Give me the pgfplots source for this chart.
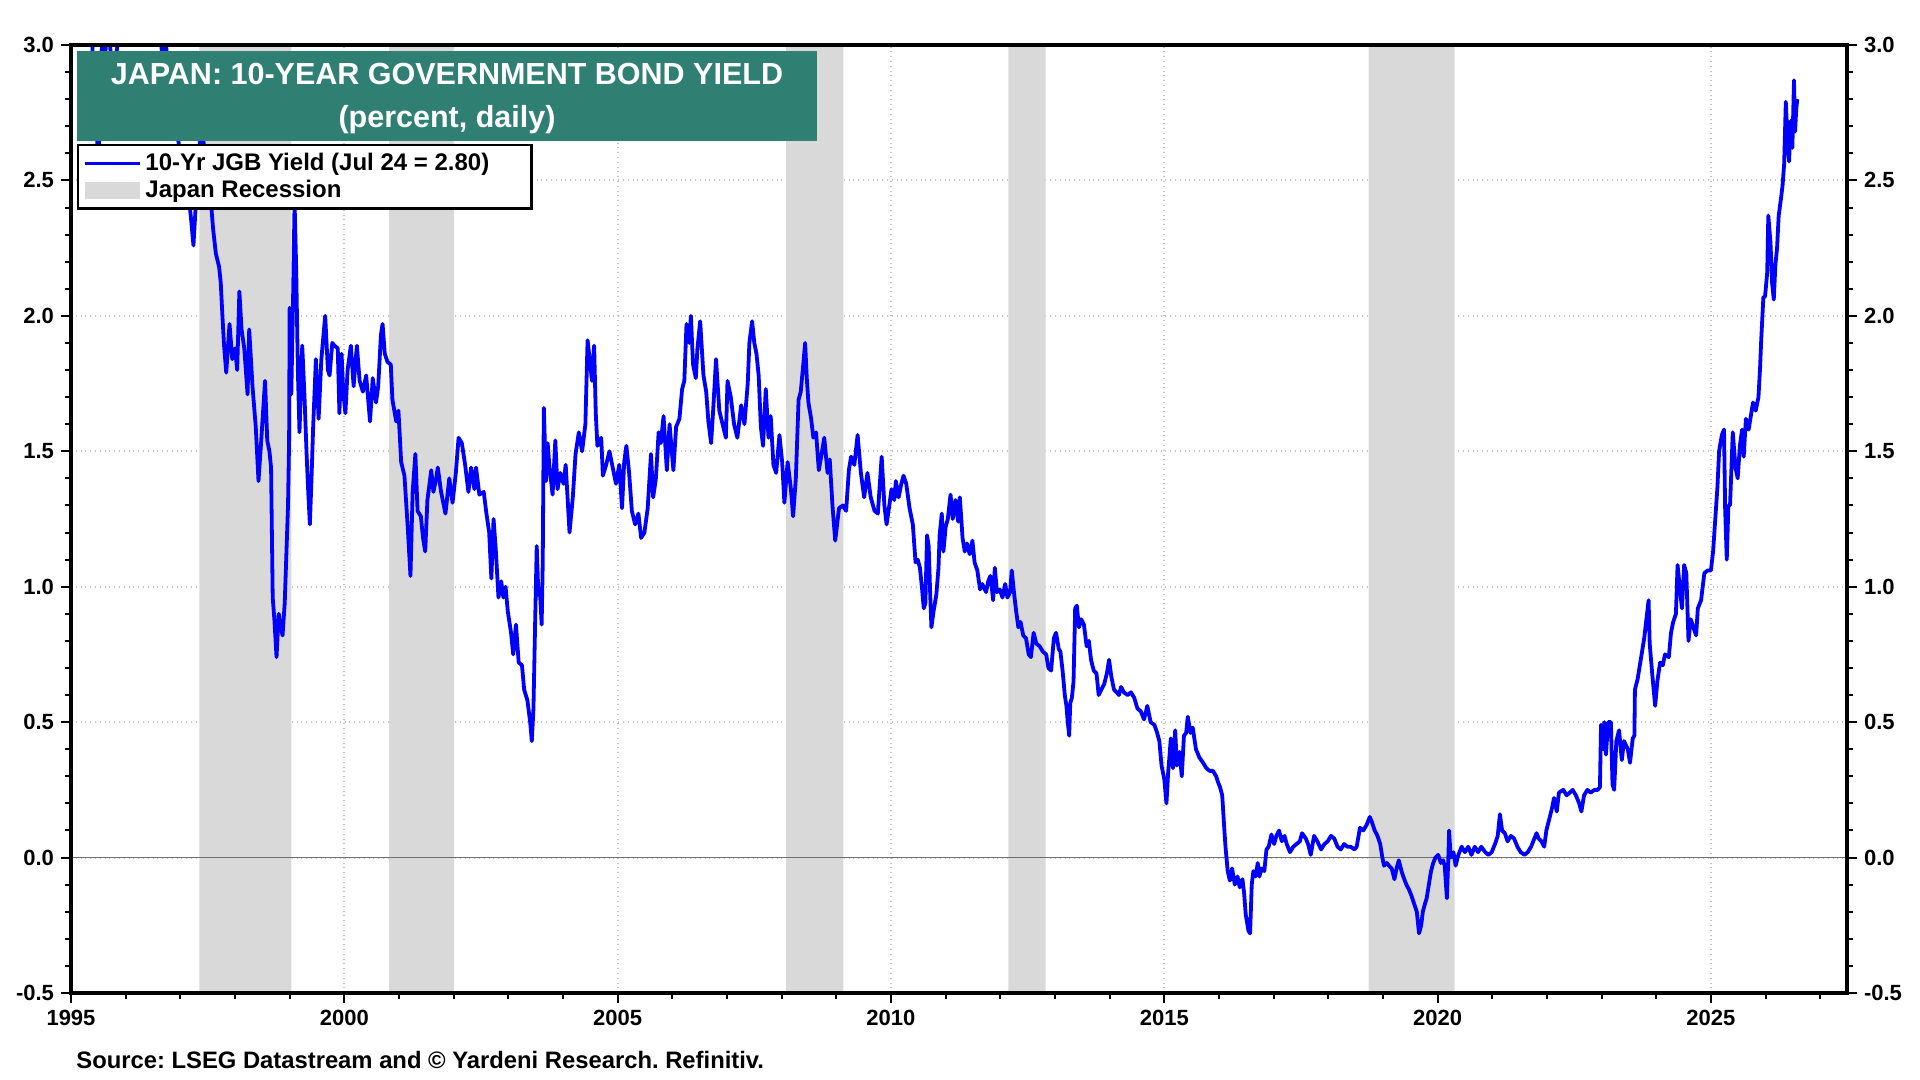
\documentclass[border=0pt]{standalone}
\usepackage{pgfplots}
\usepackage{pgfplotstable}
\pgfplotsset{compat=1.18}
\usepackage{fontspec}
\setmainfont{Liberation Sans}
\frenchspacing
\definecolor{titleteal}{RGB}{47,128,115}
\definecolor{recgray}{RGB}{217,217,217}
\definecolor{gridgray}{RGB}{195,195,195}
\definecolor{zerogray}{RGB}{110,110,110}
\definecolor{lineblue}{RGB}{0,0,255}

\pgfplotstableread{
x y
1995.00 4.55
1995.10 4.30
1995.20 3.90
1995.30 3.40
1995.38 3.05
1995.42 2.85
1995.47 2.70
1995.50 2.55
1995.53 2.75
1995.57 3.05
1995.62 2.95
1995.68 3.10
1995.75 2.90
1995.82 2.95
1995.88 3.05
1995.95 3.10
1996.05 3.25
1996.15 3.20
1996.25 3.35
1996.35 3.40
1996.45 3.30
1996.55 3.25
1996.62 3.05
1996.68 2.95
1996.72 3.05
1996.78 2.90
1996.85 2.75
1996.92 2.70
1997.00 2.60
1997.08 2.50
1997.15 2.45
1997.20 2.35
1997.24 2.26
1997.28 2.40
1997.32 2.55
1997.38 2.70
1997.44 2.62
1997.50 2.55
1997.56 2.42
1997.60 2.32
1997.65 2.23
1997.71 2.18
1997.74 2.12
1997.77 2.00
1997.80 1.89
1997.84 1.79
1997.87 1.88
1997.90 1.97
1997.95 1.84
1998.00 1.88
1998.04 1.80
1998.08 2.09
1998.12 1.95
1998.17 1.88
1998.23 1.71
1998.26 1.95
1998.32 1.74
1998.38 1.59
1998.43 1.39
1998.48 1.54
1998.55 1.76
1998.59 1.54
1998.63 1.50
1998.66 1.44
1998.69 0.96
1998.72 0.88
1998.76 0.74
1998.80 0.90
1998.83 0.86
1998.87 0.82
1998.91 0.94
1998.95 1.18
1998.97 1.30
1998.99 1.54
1999.00 2.03
1999.03 1.71
1999.06 2.03
1999.09 2.42
1999.12 2.17
1999.15 1.80
1999.18 1.57
1999.23 1.89
1999.27 1.71
1999.31 1.49
1999.34 1.35
1999.37 1.23
1999.40 1.40
1999.43 1.59
1999.48 1.84
1999.53 1.62
1999.58 1.84
1999.65 2.00
1999.70 1.80
1999.73 1.78
1999.78 1.90
1999.82 1.89
1999.88 1.88
1999.91 1.64
1999.95 1.86
1999.98 1.72
2000.02 1.64
2000.06 1.80
2000.12 1.89
2000.17 1.74
2000.23 1.89
2000.28 1.76
2000.34 1.72
2000.40 1.78
2000.47 1.61
2000.52 1.77
2000.58 1.68
2000.62 1.74
2000.67 1.93
2000.70 1.97
2000.74 1.86
2000.79 1.83
2000.85 1.82
2000.88 1.69
2000.95 1.61
2000.99 1.65
2001.04 1.46
2001.10 1.41
2001.16 1.22
2001.21 1.04
2001.25 1.35
2001.30 1.49
2001.34 1.28
2001.40 1.26
2001.44 1.18
2001.48 1.13
2001.52 1.32
2001.59 1.43
2001.63 1.35
2001.68 1.40
2001.71 1.44
2001.77 1.35
2001.85 1.27
2001.92 1.40
2001.98 1.31
2002.04 1.42
2002.09 1.55
2002.15 1.53
2002.21 1.45
2002.27 1.35
2002.32 1.44
2002.38 1.36
2002.41 1.44
2002.47 1.34
2002.55 1.35
2002.60 1.27
2002.65 1.20
2002.69 1.03
2002.73 1.25
2002.77 1.14
2002.82 0.96
2002.87 1.02
2002.91 0.96
2002.95 1.00
2002.99 0.91
2003.05 0.83
2003.09 0.75
2003.14 0.86
2003.19 0.72
2003.25 0.71
2003.29 0.62
2003.35 0.58
2003.40 0.50
2003.43 0.43
2003.46 0.55
2003.49 0.86
2003.52 1.15
2003.55 0.97
2003.58 0.98
2003.61 0.86
2003.63 1.09
2003.65 1.66
2003.69 1.39
2003.72 1.53
2003.75 1.45
2003.81 1.34
2003.86 1.54
2003.90 1.36
2003.95 1.42
2004.01 1.38
2004.05 1.45
2004.12 1.20
2004.18 1.33
2004.23 1.49
2004.29 1.57
2004.35 1.50
2004.41 1.60
2004.45 1.91
2004.50 1.82
2004.53 1.76
2004.57 1.89
2004.60 1.64
2004.63 1.52
2004.70 1.55
2004.73 1.41
2004.79 1.45
2004.85 1.50
2004.91 1.44
2004.97 1.38
2005.03 1.45
2005.08 1.29
2005.12 1.46
2005.16 1.52
2005.21 1.42
2005.26 1.28
2005.32 1.23
2005.38 1.27
2005.43 1.18
2005.49 1.20
2005.55 1.29
2005.61 1.49
2005.65 1.33
2005.70 1.40
2005.75 1.57
2005.79 1.53
2005.84 1.63
2005.90 1.43
2005.95 1.60
2006.02 1.43
2006.07 1.59
2006.13 1.62
2006.18 1.73
2006.22 1.76
2006.26 1.97
2006.31 1.90
2006.34 2.00
2006.38 1.82
2006.43 1.77
2006.46 1.88
2006.51 1.98
2006.57 1.78
2006.62 1.72
2006.66 1.61
2006.71 1.53
2006.75 1.66
2006.80 1.84
2006.86 1.65
2006.92 1.60
2006.98 1.55
2007.01 1.76
2007.07 1.70
2007.13 1.60
2007.19 1.55
2007.26 1.67
2007.32 1.60
2007.38 1.75
2007.41 1.90
2007.46 1.98
2007.50 1.90
2007.54 1.86
2007.58 1.78
2007.62 1.59
2007.66 1.52
2007.71 1.73
2007.76 1.55
2007.80 1.63
2007.85 1.45
2007.90 1.42
2007.96 1.56
2008.01 1.46
2008.05 1.31
2008.11 1.46
2008.17 1.36
2008.21 1.26
2008.26 1.40
2008.31 1.69
2008.35 1.72
2008.40 1.83
2008.43 1.90
2008.46 1.77
2008.49 1.68
2008.54 1.62
2008.58 1.55
2008.63 1.57
2008.68 1.43
2008.74 1.50
2008.78 1.55
2008.84 1.42
2008.88 1.47
2008.93 1.30
2008.98 1.17
2009.05 1.29
2009.12 1.30
2009.18 1.28
2009.23 1.43
2009.27 1.48
2009.33 1.45
2009.39 1.56
2009.45 1.42
2009.51 1.33
2009.57 1.42
2009.63 1.33
2009.70 1.28
2009.76 1.27
2009.83 1.48
2009.88 1.30
2009.92 1.23
2009.97 1.30
2010.01 1.36
2010.06 1.32
2010.09 1.39
2010.14 1.33
2010.19 1.38
2010.23 1.41
2010.28 1.38
2010.34 1.29
2010.40 1.23
2010.45 1.09
2010.49 1.10
2010.53 1.07
2010.57 0.99
2010.60 0.92
2010.63 0.94
2010.66 1.19
2010.69 1.15
2010.72 0.96
2010.74 0.85
2010.78 0.91
2010.83 0.97
2010.87 1.07
2010.89 1.19
2010.93 1.27
2010.96 1.13
2011.00 1.22
2011.04 1.25
2011.09 1.34
2011.13 1.25
2011.18 1.32
2011.23 1.24
2011.26 1.33
2011.31 1.18
2011.35 1.13
2011.39 1.16
2011.44 1.12
2011.49 1.17
2011.53 1.09
2011.58 1.06
2011.63 0.99
2011.67 1.01
2011.74 0.98
2011.78 1.02
2011.82 1.04
2011.87 0.95
2011.90 1.07
2011.94 0.98
2011.99 0.99
2012.04 0.96
2012.09 1.01
2012.13 0.96
2012.18 0.98
2012.21 1.06
2012.25 0.98
2012.29 0.91
2012.33 0.85
2012.37 0.87
2012.42 0.82
2012.47 0.81
2012.52 0.75
2012.56 0.74
2012.61 0.83
2012.66 0.79
2012.72 0.78
2012.78 0.76
2012.84 0.75
2012.88 0.70
2012.93 0.69
2012.98 0.81
2013.02 0.83
2013.07 0.77
2013.10 0.76
2013.14 0.69
2013.18 0.60
2013.21 0.56
2013.23 0.51
2013.26 0.45
2013.28 0.57
2013.31 0.59
2013.34 0.65
2013.37 0.92
2013.40 0.93
2013.44 0.85
2013.48 0.88
2013.53 0.86
2013.58 0.78
2013.62 0.80
2013.66 0.73
2013.71 0.69
2013.76 0.68
2013.80 0.60
2013.85 0.62
2013.90 0.64
2013.95 0.68
2013.99 0.73
2014.03 0.67
2014.08 0.62
2014.13 0.61
2014.17 0.60
2014.21 0.63
2014.26 0.61
2014.33 0.60
2014.39 0.61
2014.45 0.59
2014.51 0.55
2014.57 0.54
2014.63 0.51
2014.69 0.56
2014.75 0.50
2014.82 0.49
2014.87 0.46
2014.91 0.43
2014.95 0.34
2015.00 0.29
2015.04 0.20
2015.07 0.31
2015.12 0.44
2015.16 0.33
2015.20 0.47
2015.23 0.34
2015.28 0.39
2015.32 0.30
2015.36 0.45
2015.40 0.46
2015.43 0.52
2015.48 0.46
2015.52 0.48
2015.58 0.40
2015.64 0.37
2015.71 0.35
2015.77 0.33
2015.83 0.32
2015.89 0.32
2015.95 0.30
2015.98 0.28
2016.02 0.26
2016.06 0.23
2016.10 0.10
2016.12 0.04
2016.16 -0.05
2016.20 -0.085
2016.24 -0.04
2016.29 -0.10
2016.34 -0.07
2016.38 -0.11
2016.43 -0.08
2016.46 -0.13
2016.49 -0.21
2016.54 -0.27
2016.57 -0.28
2016.60 -0.10
2016.63 -0.05
2016.67 -0.07
2016.71 -0.02
2016.74 -0.07
2016.78 -0.04
2016.83 -0.05
2016.87 0.03
2016.91 0.04
2016.96 0.085
2017.01 0.05
2017.05 0.08
2017.10 0.10
2017.15 0.06
2017.20 0.08
2017.24 0.05
2017.30 0.02
2017.36 0.04
2017.42 0.05
2017.48 0.06
2017.52 0.09
2017.59 0.07
2017.63 0.05
2017.68 0.01
2017.74 0.08
2017.80 0.06
2017.87 0.03
2017.93 0.05
2017.99 0.06
2018.05 0.08
2018.11 0.07
2018.17 0.04
2018.23 0.03
2018.29 0.05
2018.35 0.04
2018.41 0.04
2018.48 0.03
2018.52 0.04
2018.58 0.11
2018.64 0.10
2018.70 0.12
2018.76 0.15
2018.80 0.13
2018.85 0.10
2018.90 0.08
2018.95 0.05
2018.99 0.00
2019.02 -0.03
2019.07 -0.02
2019.11 -0.03
2019.16 -0.04
2019.21 -0.08
2019.25 -0.04
2019.29 -0.01
2019.34 -0.05
2019.39 -0.08
2019.43 -0.10
2019.48 -0.12
2019.52 -0.14
2019.57 -0.17
2019.62 -0.20
2019.66 -0.28
2019.70 -0.25
2019.73 -0.20
2019.77 -0.17
2019.80 -0.15
2019.84 -0.10
2019.88 -0.05
2019.92 -0.02
2019.96 0.00
2020.01 0.01
2020.06 -0.02
2020.10 -0.01
2020.13 -0.03
2020.17 -0.15
2020.20 0.02
2020.21 0.10
2020.24 0.00
2020.29 0.02
2020.33 -0.03
2020.38 0.01
2020.44 0.04
2020.50 0.02
2020.56 0.04
2020.62 0.01
2020.68 0.04
2020.74 0.02
2020.80 0.04
2020.87 0.02
2020.93 0.01
2020.99 0.02
2021.05 0.05
2021.10 0.08
2021.14 0.16
2021.18 0.10
2021.23 0.09
2021.28 0.06
2021.34 0.08
2021.40 0.07
2021.46 0.04
2021.52 0.02
2021.59 0.01
2021.65 0.02
2021.71 0.04
2021.77 0.07
2021.81 0.09
2021.85 0.07
2021.90 0.06
2021.95 0.04
2021.99 0.10
2022.04 0.14
2022.09 0.18
2022.13 0.22
2022.18 0.17
2022.22 0.24
2022.30 0.25
2022.36 0.23
2022.42 0.24
2022.47 0.25
2022.53 0.23
2022.59 0.20
2022.63 0.17
2022.68 0.23
2022.74 0.25
2022.80 0.24
2022.87 0.25
2022.93 0.25
2022.97 0.26
2022.99 0.49
2023.03 0.40
2023.05 0.50
2023.08 0.38
2023.12 0.50
2023.17 0.50
2023.20 0.27
2023.23 0.25
2023.27 0.43
2023.32 0.47
2023.37 0.36
2023.41 0.43
2023.48 0.40
2023.52 0.35
2023.57 0.44
2023.60 0.45
2023.61 0.62
2023.66 0.66
2023.70 0.71
2023.74 0.76
2023.78 0.81
2023.82 0.88
2023.86 0.95
2023.88 0.79
2023.93 0.67
2023.98 0.56
2024.02 0.65
2024.07 0.72
2024.12 0.71
2024.16 0.75
2024.23 0.74
2024.27 0.83
2024.31 0.87
2024.36 0.90
2024.39 1.08
2024.43 1.00
2024.47 0.92
2024.51 1.08
2024.55 1.05
2024.59 0.80
2024.63 0.88
2024.68 0.85
2024.73 0.82
2024.76 0.92
2024.82 0.95
2024.88 1.05
2024.94 1.06
2025.00 1.06
2025.04 1.13
2025.08 1.25
2025.12 1.37
2025.15 1.50
2025.20 1.56
2025.24 1.58
2025.26 1.29
2025.29 1.10
2025.32 1.30
2025.35 1.30
2025.40 1.57
2025.45 1.44
2025.49 1.40
2025.53 1.52
2025.57 1.58
2025.60 1.48
2025.64 1.62
2025.69 1.58
2025.73 1.63
2025.77 1.68
2025.82 1.65
2025.87 1.70
2025.90 1.81
2025.92 1.91
2025.96 2.07
2025.99 2.07
2026.03 2.16
2026.05 2.37
2026.09 2.27
2026.12 2.12
2026.15 2.06
2026.18 2.19
2026.21 2.25
2026.24 2.37
2026.28 2.43
2026.31 2.48
2026.34 2.56
2026.37 2.79
2026.40 2.66
2026.43 2.57
2026.46 2.72
2026.49 2.62
2026.52 2.87
2026.54 2.68
2026.56 2.76
2026.58 2.80
}\jgbdata

\pgfplotsset{
  commonaxis/.style={
    at={(35.5pt,43.5pt)}, anchor=south west,
    scale only axis, width=888pt, height=474pt,
    xmin=1995, xmax=2027.49, ymin=-0.5, ymax=3,
    ytick={-0.5,0,0.5,1,1.5,2,2.5,3},
    minor ytick={-0.4,-0.3,-0.2,-0.1,0.1,0.2,0.3,0.4,0.6,0.7,0.8,0.9,1.1,1.2,1.3,1.4,1.6,1.7,1.8,1.9,2.1,2.2,2.3,2.4,2.6,2.7,2.8,2.9},
    tick align=outside,
    major tick length=5pt, minor tick length=3pt,
    every tick/.style={black, line width=1pt},
    axis line style={black, line width=2.2pt},
    tick label style={font=\fontsize{11}{13}\selectfont\bfseries},
    /pgf/number format/assume math mode=true,
    yticklabel style={/pgf/number format/.cd, fixed, fixed zerofill, precision=1},
  }
}

\begin{document}
\begin{tikzpicture}
\useasboundingbox (0,0) rectangle (960pt,540pt);
\begin{axis}[
  commonaxis,
  xtick={1995,2000,2005,2010,2015,2020,2025},
  minor xtick={1996,1997,1998,1999,2001,2002,2003,2004,2006,2007,2008,2009,2011,2012,2013,2014,2016,2017,2018,2019,2021,2022,2023,2024,2026,2027},
  xticklabel style={/pgf/number format/1000 sep={}},
  xtick pos=left, ytick pos=left,
  grid=major,
  major grid style={gridgray, dotted, line width=1pt},
  legend style={at={(0.00338,0.8956)}, anchor=north west, draw=black, line width=1.2pt,
    font=\fontsize{12}{13.5}\selectfont\bfseries, inner xsep=2.5pt, inner ysep=3pt,
    row sep=1.3pt, column sep=0pt, nodes={inner ysep=1pt, inner xsep=2pt}},
  legend cell align=left,
  reverse legend,
]
\addplot[draw=none, fill=recgray,
  legend image code/.code={\fill[recgray] (0pt,-4.25pt) rectangle (27.5pt,4.25pt);}]
  coordinates {(1997.35,-0.5) (1997.35,3) (1999.03,3) (1999.03,-0.5)
    (2000.82,-0.5) (2000.82,3) (2002.01,3) (2002.01,-0.5)
    (2008.08,-0.5) (2008.08,3) (2009.13,3) (2009.13,-0.5)
    (2012.15,-0.5) (2012.15,3) (2012.83,3) (2012.83,-0.5)
    (2018.74,-0.5) (2018.74,3) (2020.31,3) (2020.31,-0.5)} -- cycle;
\addlegendentry{Japan Recession}
\addplot[zerogray, line width=0.75pt, forget plot] coordinates {(1995,0) (2027.49,0)};
\addplot[lineblue, line width=1.9pt, line join=round,
  legend image code/.code={\draw[lineblue, line width=1.6pt] (0pt,0pt) -- (27.5pt,0pt);}]
  table[x=x, y=y] {\jgbdata};
\addlegendentry{10-Yr JGB Yield (Jul 24 = 2.80)\makebox[16.5pt]{}}
\end{axis}
\begin{axis}[
  commonaxis,
  xtick=\empty,
  ytick pos=right,
  yticklabel pos=right,
]
\addplot[draw=none, forget plot] coordinates {(2000,1) (2010,2)};
\end{axis}
\fill[titleteal] (38.5pt,469.5pt) rectangle (408.5pt,514.5pt);
\node[anchor=base, text=white, font=\fontsize{15.25}{18}\selectfont\bfseries] at (223.5pt,497.5pt) {JAPAN: 10-YEAR GOVERNMENT BOND YIELD};
\node[anchor=base, text=white, font=\fontsize{15.25}{18}\selectfont\bfseries] at (223.5pt,476pt) {(percent, daily)};
\node[anchor=west, inner xsep=0pt, font=\fontsize{11.9}{14}\selectfont\bfseries] at (38pt,10pt) {Source: LSEG Datastream and © Yardeni Research. Refinitiv.};
\end{tikzpicture}
\end{document}
